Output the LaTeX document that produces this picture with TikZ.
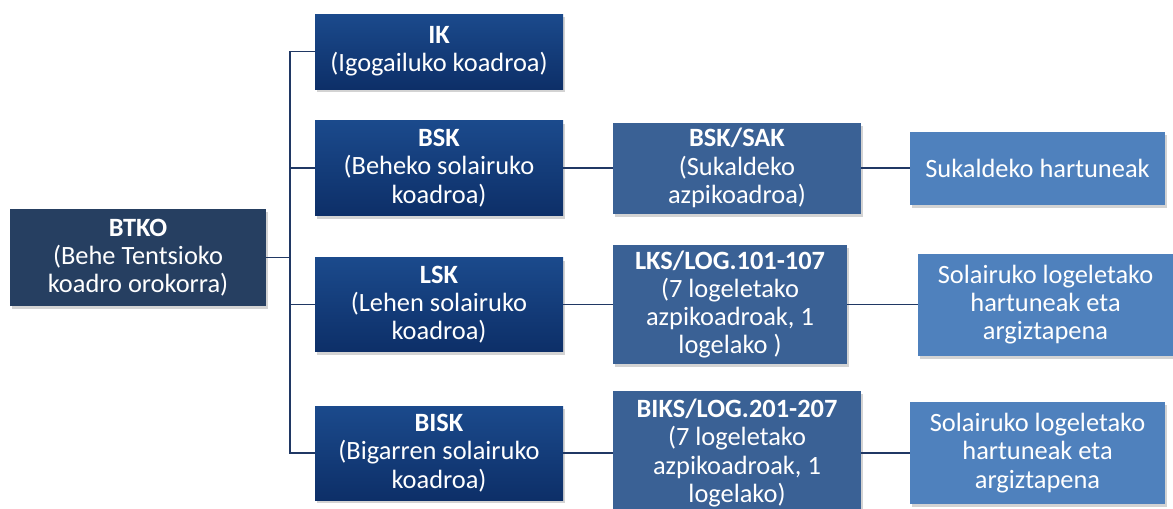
\documentclass[tikz,border=0pt]{standalone}
\usepackage{fontspec}
\setmainfont{Carlito}
\usetikzlibrary{shadows}
\definecolor{nagusi}{HTML}{263F61}
\definecolor{goia}{HTML}{1B4A8C}
\definecolor{behea}{HTML}{0D2F68}
\definecolor{azpi}{HTML}{3A6195}
\definecolor{hart}{HTML}{4F81BD}
\definecolor{lerro}{HTML}{203864}

\begin{document}
\begin{tikzpicture}[x=0.75pt, y=-0.75pt,
  box/.style={rectangle, text=white, align=center, inner sep=2pt,
    font=\fontsize{19.8}{21.2}\selectfont,
    drop shadow={opacity=0.35, shadow xshift=1.5pt, shadow yshift=-2.5pt}},
  root/.style={box, fill=nagusi, minimum width=192pt, minimum height=72.75pt},
  koadro/.style={box, top color=goia, bottom color=behea, minimum width=186pt},
  azpik/.style={box, fill=azpi, minimum width=186pt},
  hartune/.style={box, fill=hart, minimum width=191.25pt},
  lotura/.style={draw=lerro, line width=1.4pt}]
\useasboundingbox (0,0) rectangle (1173,508);

\node[root]                             (btko) at (138,257.5) {\textbf{BTKO}\\(Behe Tentsioko\\koadro orokorra)};
\node[koadro, minimum height=56.25pt]   (ik)   at (439,51.5)  {\textbf{IK}\\(Igogailuko koadroa)};
\node[koadro, minimum height=71.25pt]   (bsk)  at (439,168)   {\textbf{BSK}\\(Beheko solairuko\\koadroa)};
\node[koadro, minimum height=70.5pt]    (lsk)  at (439,304.5) {\textbf{LSK}\\(Lehen solairuko\\koadroa)};
\node[koadro, minimum height=70.5pt]    (bisk) at (439,453)   {\textbf{BISK}\\(Bigarren solairuko\\koadroa)};

\node[azpik, minimum height=68.25pt]    (sak)  at (737,168)   {\textbf{BSK/SAK}\\(Sukaldeko\\azpikoadroa)};
\node[azpik, minimum width=175.5pt, minimum height=89.25pt] (lks) at (730,304.5) {\textbf{LKS/LOG.101-107}\\(7 logeletako\\azpikoadroak, 1\\logelako )};
\node[azpik, minimum height=93pt]       (biks) at (737,453)   {\textbf{BIKS/LOG.201-207}\\(7 logeletako\\azpikoadroak, 1\\logelako)};

\node[hartune, minimum height=54.75pt]  (suk)  at (1037.5,168)   {Sukaldeko hartuneak};
\node[hartune, minimum height=76.5pt]   (sol1) at (1045.5,304.5) {Solairuko logeletako\\hartuneak eta\\argiztapena};
\node[hartune, minimum height=76.5pt]   (sol2) at (1037.5,453)   {Solairuko logeletako\\hartuneak eta\\argiztapena};

% enborra
\coordinate (jb) at (290,257.5);
\draw[lotura] (btko) -- (jb);
\draw[lotura] (ik) -| (jb);
\draw[lotura] (bsk) -| (jb);
\draw[lotura] (lsk) -| (jb);
\draw[lotura] (bisk) -| (jb);

% adarrak
\draw[lotura] (bsk) -- (sak);
\draw[lotura] (sak) -- (suk);
\draw[lotura] (lsk) -- (lks);
\draw[lotura] (lks) -- (sol1);
\draw[lotura] (bisk) -- (biks);
\draw[lotura] (biks) -- (sol2);
\end{tikzpicture}
\end{document}
